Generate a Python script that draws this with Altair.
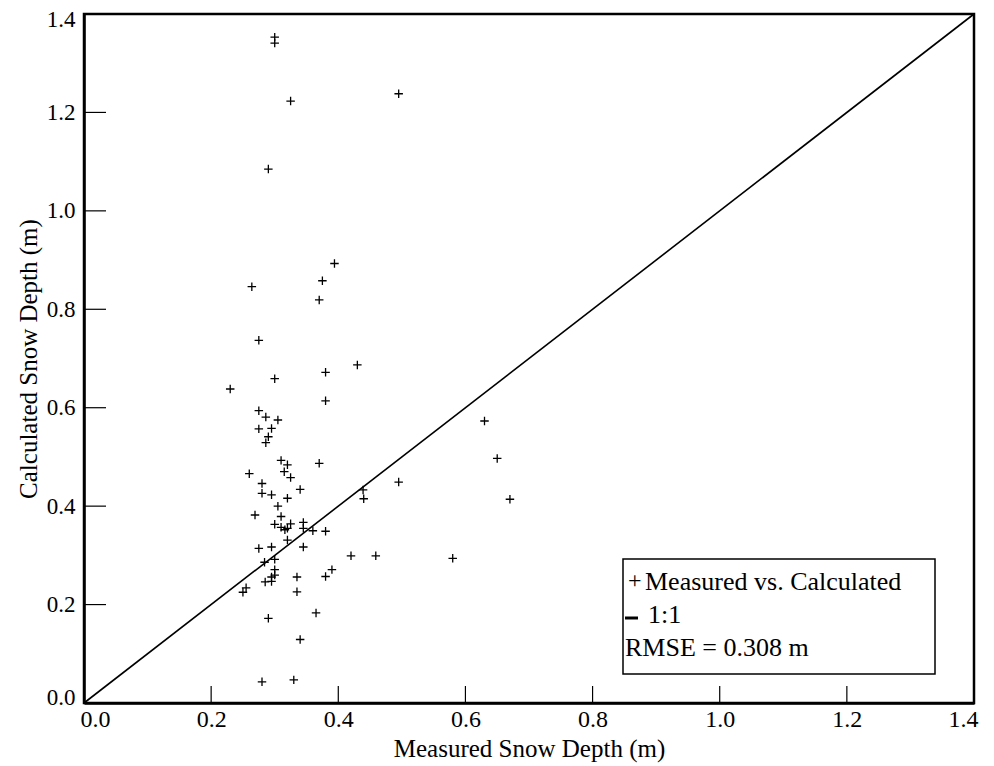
import altair as alt
import pandas as pd

# Measured vs calculated snow depth (m)
measured = [0.300, 0.300, 0.325, 0.495, 0.290,
            0.394, 0.375, 0.264, 0.370, 0.275, 0.430, 0.380, 0.300, 0.230, 0.380,
            0.275, 0.286, 0.305, 0.275, 0.295, 0.290, 0.286,
            0.310, 0.320, 0.370, 0.260, 0.315, 0.325, 0.650, 0.280, 0.495, 0.280,
            0.295, 0.340, 0.439, 0.440, 0.320, 0.305, 0.269, 0.310, 0.300, 0.325,
            0.345, 0.310, 0.316, 0.320, 0.345, 0.360, 0.380, 0.320, 0.275, 0.295,
            0.345, 0.300, 0.284, 0.420, 0.459, 0.580, 0.300, 0.390, 0.300, 0.295,
            0.335, 0.380, 0.285, 0.295, 0.255, 0.250, 0.335, 0.365, 0.290, 0.340,
            0.280, 0.330, 0.630, 0.670]
calculated = [1.353, 1.341, 1.223, 1.238, 1.085,
              0.893, 0.858, 0.846, 0.819, 0.737, 0.687, 0.672, 0.659, 0.638, 0.614,
              0.594, 0.581, 0.575, 0.557, 0.558, 0.541, 0.529,
              0.493, 0.484, 0.487, 0.466, 0.470, 0.458, 0.497, 0.446, 0.449, 0.426,
              0.423, 0.434, 0.433, 0.415, 0.416, 0.400, 0.382, 0.379, 0.363, 0.364,
              0.367, 0.357, 0.352, 0.355, 0.355, 0.350, 0.349, 0.331, 0.314, 0.317,
              0.317, 0.292, 0.286, 0.299, 0.299, 0.294, 0.271, 0.271, 0.260, 0.256,
              0.256, 0.257, 0.246, 0.247, 0.234, 0.225, 0.226, 0.183, 0.172, 0.129,
              0.043, 0.047, 0.573, 0.414]

line_vals = [0.0, 1.4]
axis_vals = [0.0, 0.2, 0.4, 0.6, 0.8, 1.0, 1.2, 1.4]
inner_ticks = [0.2, 0.4, 0.6, 0.8, 1.0, 1.2]

legend_point = "Measured vs. Calculated"
legend_line = "1:1"
legend_rmse = "RMSE = 0.308 m"

W, H = 890, 689
FONT = "Liberation Serif"

xs = alt.Scale(domain=[0, 1.4], nice=False, zero=False)
ys = alt.Scale(domain=[0, 1.4], nice=False, zero=False)

pts = pd.DataFrame({"measured": measured, "calculated": calculated})
points = alt.Chart(pts).mark_point(
    shape="M-1,0L1,0M0,-1L0,1", size=72, filled=False, stroke="black",
    strokeWidth=1.3, opacity=1
).encode(
    x=alt.X("measured:Q", scale=xs,
            axis=alt.Axis(values=axis_vals, format=".1f", title="Measured Snow Depth (m)")),
    y=alt.Y("calculated:Q", scale=ys,
            axis=alt.Axis(values=axis_vals, format=".1f", title="Calculated Snow Depth (m)")),
)

diag = alt.Chart(pd.DataFrame({"v": line_vals})).mark_line(
    color="black", strokeWidth=1.6
).encode(x=alt.X("v:Q"), y=alt.Y("v:Q"))

tdf = pd.DataFrame({"t": inner_ticks})
xticks = alt.Chart(tdf).mark_rule(color="black", strokeWidth=1.2).encode(
    x=alt.X("t:Q"), y=alt.value(H), y2=alt.value(H - 17),
)
yticks = alt.Chart(tdf).mark_rule(color="black", strokeWidth=1.2).encode(
    y=alt.Y("t:Q"), x=alt.value(0), x2=alt.value(22),
)

one = pd.DataFrame({"k": [0]})
box = alt.Chart(one).mark_rect(fill="white", stroke="black", strokeWidth=1.5).encode(
    x=alt.value(539), x2=alt.value(851), y=alt.value(545), y2=alt.value(660)
)

def txt(s, x, y, size=26):
    return alt.Chart(pd.DataFrame({"s": [s]})).mark_text(
        font=FONT, fontSize=size, align="left", baseline="middle", color="black"
    ).encode(text="s:N", x=alt.value(x), y=alt.value(y))

plus_sym = txt("+", 544, 567, 24)
t1 = txt(legend_point, 561, 568)
dash = alt.Chart(one).mark_rule(color="black", strokeWidth=3).encode(
    x=alt.value(541), x2=alt.value(554), y=alt.value(604)
)
t2 = txt(legend_line, 564, 601)
t3 = txt(legend_rmse, 541, 634)

chart = alt.layer(points, diag, xticks, yticks, box, plus_sym, t1, dash, t2, t3).properties(
    width=W, height=H,
    background="white",
    autosize=alt.AutoSizeParams(type="none"),
    padding={"left": 76, "top": 6, "right": 12, "bottom": 60},
).configure_view(
    stroke="black", strokeWidth=2.5
).configure_axis(
    ticks=False, grid=False, domainColor="black", domainWidth=2.5,
    labelFont=FONT, labelFontSize=24, labelColor="black", labelPadding=4,
    labelFlush=True,
    titleFont=FONT, titleFontSize=25, titleFontWeight="normal", titleColor="black",
).configure_axisX(
    titlePadding=5, labelFlushOffset=4
).configure_axisY(
    labelFontSize=23, titlePadding=5, labelPadding=9, labelFlushOffset=6
)

chart.save("out.html", embed_options={"renderer": "svg", "actions": False})
